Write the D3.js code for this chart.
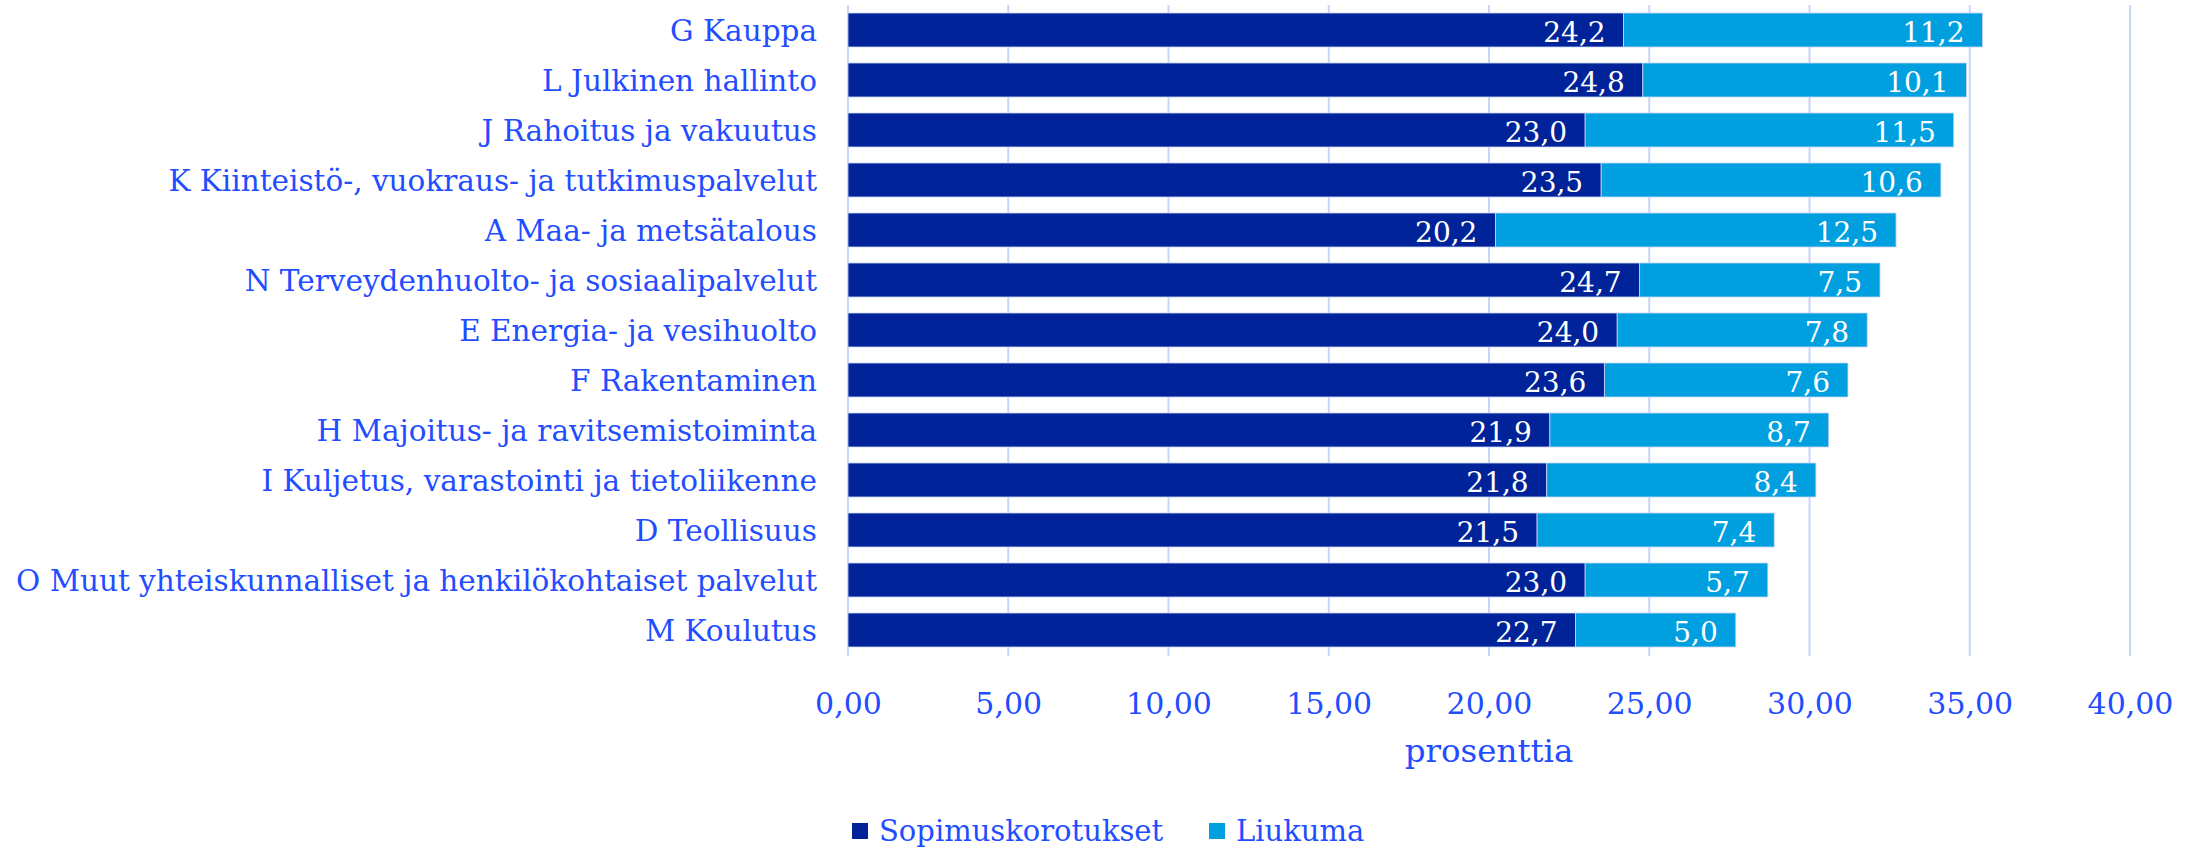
<!DOCTYPE html>
<html>
<head>
<meta charset="utf-8">
<script src="https://cdn.jsdelivr.net/npm/d3@7"></script>
<style>
  body { margin: 0; background: #fff; }
  text { font-family: "DejaVu Serif", serif; }
</style>
</head>
<body>
<div class="chart"></div>
<script>
// data
const categories = [
    "G Kauppa",
    "L Julkinen hallinto",
    "J Rahoitus ja vakuutus",
    "K Kiinteistö-, vuokraus- ja tutkimuspalvelut",
    "A Maa- ja metsätalous",
    "N Terveydenhuolto- ja sosiaalipalvelut",
    "E Energia- ja vesihuolto",
    "F Rakentaminen",
    "H Majoitus- ja ravitsemistoiminta",
    "I Kuljetus, varastointi ja tietoliikenne",
    "D Teollisuus",
    "O Muut yhteiskunnalliset ja henkilökohtaiset palvelut",
    "M Koulutus"
];
const sopimuskorotukset = [24.2, 24.8, 23.0, 23.5, 20.2, 24.7, 24.0, 23.6, 21.9, 21.8, 21.5, 23.0, 22.7];
const liukuma = [11.2, 10.1, 11.5, 10.6, 12.5, 7.5, 7.8, 7.6, 8.7, 8.4, 7.4, 5.7, 5.0];
const seriesNames = ["Sopimuskorotukset", "Liukuma"];
const xTicks = [0, 5, 10, 15, 20, 25, 30, 35, 40];

(function(){
    const
        svgWidth = 2201,
        svgHeight = 848;

    const margin = { top: 5, right: 71, bottom: 193, left: 848 };
    const width = svgWidth - margin.left - margin.right;
    const height = svgHeight - margin.top - margin.bottom;

    const darkBlue = "#00239a",
        lightBlue = "#00a0e0",
        textBlue = "#1f4dff",
        gridColor = "#c9d5f8";

    const svg = d3.select(".chart")
        .append("svg")
        .attr("width", svgWidth)
        .attr("height", svgHeight);

    const chartGroup = svg.append("g")
        .attr("transform", `translate(${margin.left}, ${margin.top})`);

    const rows = categories.map((c, i) => ({
        cat: c,
        values: [sopimuskorotukset[i], liukuma[i]]
    }));

    // scales
    const x = d3.scaleLinear().domain([0, 40]).range([0, width]);
    const y = d3.scaleBand().domain(categories).range([0, height]).paddingInner(0.32).paddingOuter(0.16);
    const fmt = v => v.toFixed(1).replace(".", ",");

    // gridlines
    chartGroup.append("g")
        .selectAll("line")
        .data(xTicks)
        .enter()
        .append("line")
        .attr("x1", d => x(d)).attr("x2", d => x(d))
        .attr("y1", 0).attr("y2", height + 1)
        .attr("stroke", gridColor)
        .attr("stroke-width", 2);

    // x tick labels
    const bottomAxis = d3.axisBottom(x).tickValues(xTicks).tickSize(0).tickPadding(0)
        .tickFormat(d => d.toFixed(2).replace(".", ","));
    const xAxisG = chartGroup.append("g")
        .attr("transform", `translate(0, ${height + 38})`)
        .call(bottomAxis);
    xAxisG.select(".domain").remove();
    xAxisG.selectAll("text")
        .attr("fill", textBlue)
        .attr("font-size", "30px")
        .attr("font-family", "DejaVu Serif");

    // y axis category labels
    const leftAxis = d3.axisLeft(y).tickSize(0).tickPadding(31);
    const yAxisG = chartGroup.append("g").call(leftAxis);
    yAxisG.select(".domain").remove();
    yAxisG.selectAll("text")
        .attr("fill", textBlue)
        .attr("font-size", "29.5px")
        .attr("font-family", "DejaVu Serif")
        .attr("dy", "0.38em");

    // stacked bars
    const colors = [darkBlue, lightBlue];
    const rowG = chartGroup.selectAll("g.row")
        .data(rows)
        .enter()
        .append("g")
        .attr("class", "row")
        .attr("transform", d => `translate(0, ${y(d.cat)})`);

    [0, 1].forEach(k => {
        rowG.append("rect")
            .attr("x", d => x(k === 0 ? 0 : d.values[0]))
            .attr("y", 0)
            .attr("width", d => x(d.values[k]) - x(0))
            .attr("height", y.bandwidth())
            .attr("fill", colors[k])
            .attr("stroke", "#c9d5f8")
            .attr("stroke-width", 0.8);

        rowG.append("text")
            .attr("x", d => x(k === 0 ? d.values[0] : d.values[0] + d.values[1]) - 18)
            .attr("y", y.bandwidth() - 5)
            .attr("text-anchor", "end")
            .attr("fill", "#fff")
            .attr("font-size", "28px")
            .text(d => fmt(d.values[k]));
    });

    // axis title
    chartGroup.append("text")
        .attr("x", width / 2)
        .attr("y", height + 107)
        .attr("text-anchor", "middle")
        .attr("fill", textBlue)
        .attr("font-size", "32.5px")
        .text("prosenttia");

    // legend
    const legend = svg.append("g").attr("transform", "translate(852, 823)");
    const legendX = [0, 357];
    seriesNames.forEach((name, i) => {
        legend.append("rect")
            .attr("x", legendX[i]).attr("y", 0)
            .attr("width", 16).attr("height", 16)
            .attr("fill", colors[i]);
        legend.append("text")
            .attr("x", legendX[i] + 27)
            .attr("y", 18)
            .attr("fill", textBlue)
            .attr("font-size", "29px")
            .text(name);
    });
})();
</script>
</body>
</html>
